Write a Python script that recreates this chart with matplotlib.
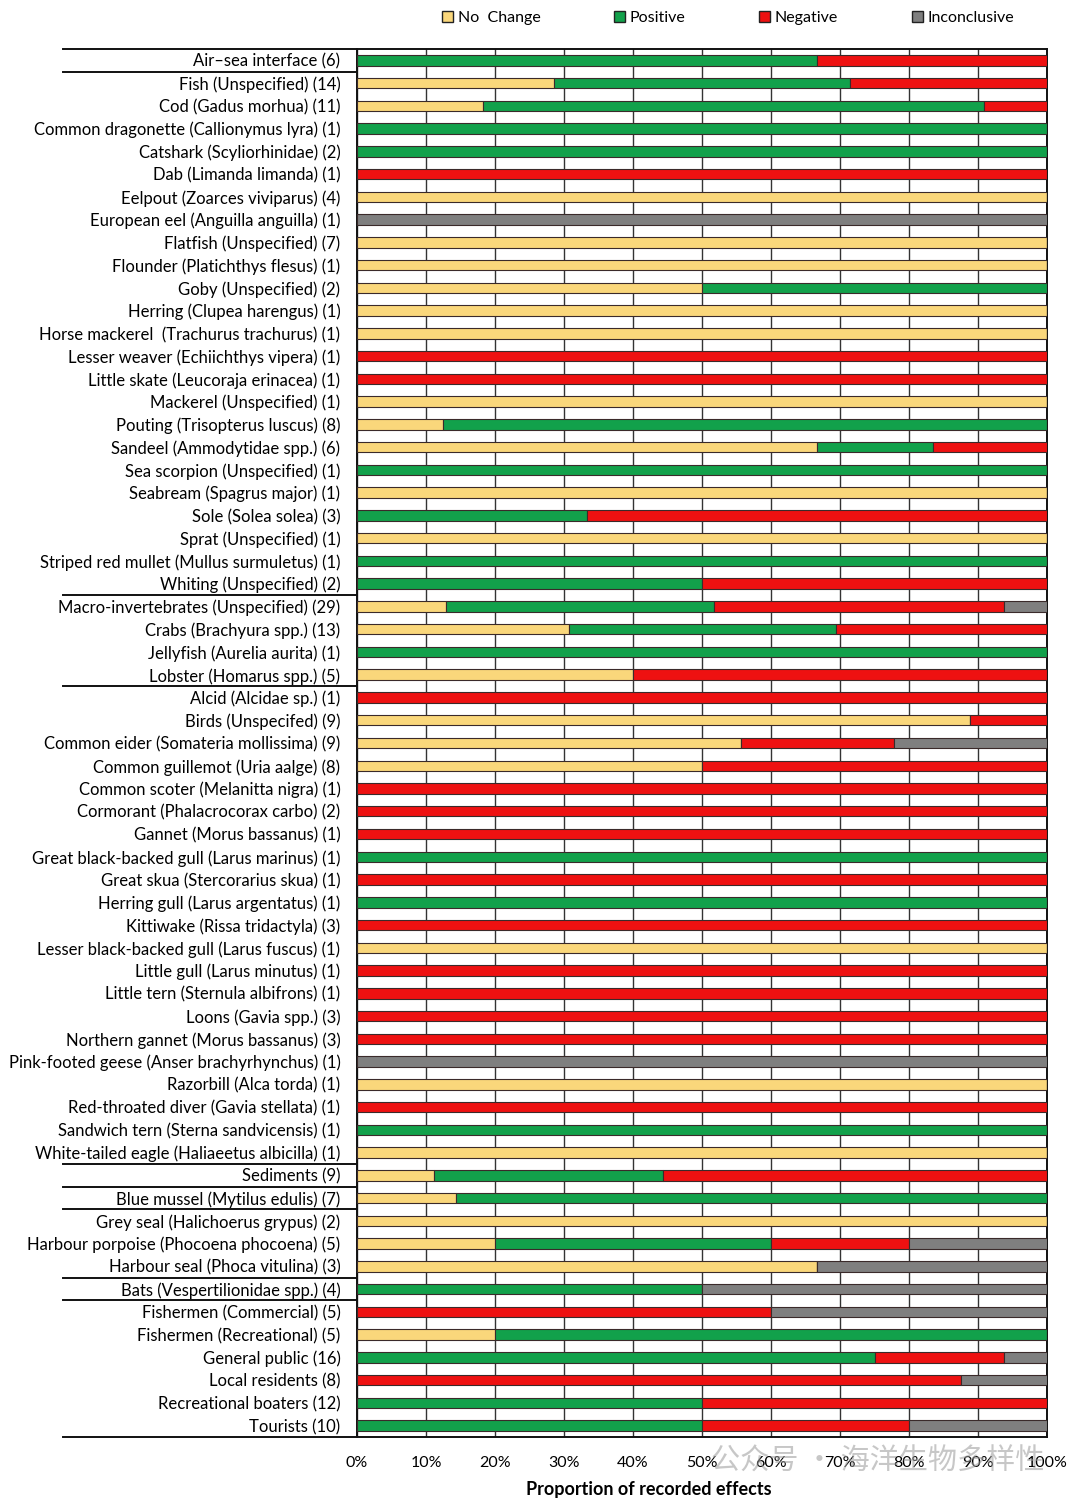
import matplotlib.pyplot as plt
from matplotlib.patches import Patch
import matplotlib.transforms as mtransforms

plt.rcParams['font.family'] = ['Lato', 'Noto Sans CJK SC', 'DejaVu Sans']

# categories, top to bottom
labels = [
    "Air\u2013sea interface (6)", "Fish (Unspecified) (14)", "Cod (Gadus morhua) (11)",
    "Common dragonette (Callionymus lyra) (1)", "Catshark (Scyliorhinidae) (2)",
    "Dab (Limanda limanda) (1)", "Eelpout (Zoarces viviparus) (4)",
    "European eel (Anguilla anguilla) (1)", "Flatfish (Unspecified) (7)",
    "Flounder (Platichthys flesus) (1)", "Goby (Unspecified) (2)",
    "Herring (Clupea harengus) (1)", "Horse mackerel  (Trachurus trachurus) (1)",
    "Lesser weaver (Echiichthys vipera) (1)", "Little skate (Leucoraja erinacea) (1)",
    "Mackerel (Unspecified) (1)", "Pouting (Trisopterus luscus) (8)",
    "Sandeel (Ammodytidae spp.) (6)", "Sea scorpion (Unspecified) (1)",
    "Seabream (Spagrus major) (1)", "Sole (Solea solea) (3)", "Sprat (Unspecified) (1)",
    "Striped red mullet (Mullus surmuletus) (1)", "Whiting (Unspecified) (2)",
    "Macro-invertebrates (Unspecified) (29)", "Crabs (Brachyura spp.) (13)",
    "Jellyfish (Aurelia aurita) (1)", "Lobster (Homarus spp.) (5)",
    "Alcid (Alcidae sp.) (1)", "Birds (Unspecifed) (9)",
    "Common eider (Somateria mollissima) (9)", "Common guillemot (Uria aalge) (8)",
    "Common scoter (Melanitta nigra) (1)", "Cormorant (Phalacrocorax carbo) (2)",
    "Gannet (Morus bassanus) (1)", "Great black-backed gull (Larus marinus) (1)",
    "Great skua (Stercorarius skua) (1)", "Herring gull (Larus argentatus) (1)",
    "Kittiwake (Rissa tridactyla) (3)", "Lesser black-backed gull (Larus fuscus) (1)",
    "Little gull (Larus minutus) (1)", "Little tern (Sternula albifrons) (1)",
    "Loons (Gavia spp.) (3)", "Northern gannet (Morus bassanus) (3)",
    "Pink-footed geese (Anser brachyrhynchus) (1)", "Razorbill (Alca torda) (1)",
    "Red-throated diver (Gavia stellata) (1)", "Sandwich tern (Sterna sandvicensis) (1)",
    "White-tailed eagle (Haliaeetus albicilla) (1)", "Sediments (9)",
    "Blue mussel (Mytilus edulis) (7)", "Grey seal (Halichoerus grypus) (2)",
    "Harbour porpoise (Phocoena phocoena) (5)", "Harbour seal (Phoca vitulina) (3)",
    "Bats (Vespertilionidae spp.) (4)", "Fishermen (Commercial) (5)",
    "Fishermen (Recreational) (5)", "General public (16)", "Local residents (8)",
    "Recreational boaters (12)", "Tourists (10)",
]

no_change = [0, 0.286, 0.182, 0, 0, 0, 1, 0, 1, 1, 0.5, 1, 1, 0, 0, 1, 0.125, 0.667, 0, 1,
             0, 1, 0, 0, 0.129, 0.307, 0, 0.4, 0, 0.889, 0.556, 0.5, 0, 0, 0, 0, 0, 0,
             0, 1, 0, 0, 0, 0, 0, 1, 0, 0, 1, 0.111, 0.143, 1, 0.2, 0.667, 0, 0, 0.2, 0,
             0, 0, 0]
positive = [0.667, 0.428, 0.727, 1, 1, 0, 0, 0, 0, 0, 0.5, 0, 0, 0, 0, 0, 0.875, 0.167, 1, 0,
            0.333, 0, 1, 0.5, 0.388, 0.387, 1, 0, 0, 0, 0, 0, 0, 0, 0, 1, 0, 1,
            0, 0, 0, 0, 0, 0, 0, 0, 0, 1, 0, 0.333, 0.857, 0, 0.4, 0, 0.5, 0, 0.8, 0.75,
            0, 0.5, 0.5]
negative = [0.333, 0.286, 0.091, 0, 0, 1, 0, 0, 0, 0, 0, 0, 0, 1, 1, 0, 0, 0.166, 0, 0,
            0.667, 0, 0, 0.5, 0.42, 0.306, 0, 0.6, 1, 0.111, 0.222, 0.5, 1, 1, 1, 0, 1, 0,
            1, 0, 1, 1, 1, 1, 0, 0, 1, 0, 0, 0.556, 0, 0, 0.2, 0, 0, 0.6, 0, 0.1875,
            0.875, 0.5, 0.3]
inconclusive = [0, 0, 0, 0, 0, 0, 0, 1, 0, 0, 0, 0, 0, 0, 0, 0, 0, 0, 0, 0,
                0, 0, 0, 0, 0.063, 0, 0, 0, 0, 0, 0.222, 0, 0, 0, 0, 0, 0, 0,
                0, 0, 0, 0, 0, 0, 1, 0, 0, 0, 0, 0, 0, 0, 0.2, 0.333, 0.5, 0.4, 0, 0.0625,
                0.125, 0, 0.2]

series = [("No  Change", no_change, "#FAD77B"),
          ("Positive", positive, "#12A14B"),
          ("Negative", negative, "#EE1111"),
          ("Inconclusive", inconclusive, "#7F7F7F")]

# rows after which a group separator line is drawn
group_breaks = [0, 23, 27, 48, 49, 50, 53, 54]

fig = plt.figure(figsize=(10.8, 15.06), dpi=100)
ax = fig.add_axes([0.3306, 0.0458, 0.6389, 0.9217])

y = list(range(len(labels)))
left = [0.0] * len(labels)
for name, vals, col in series:
    ax.barh(y, vals, left=left, height=0.46, color=col, edgecolor="#3a2a2a",
            linewidth=0.8, zorder=3)
    left = [l + v for l, v in zip(left, vals)]

ax.set_xlim(0, 1)
ax.set_ylim(len(labels) - 0.5, -0.5)
ax.set_yticks(y)
ax.set_yticklabels(labels, fontsize=12)
ax.set_xticks([i / 10 for i in range(11)])
ax.set_xticklabels([f"{i * 10}%" for i in range(11)], fontsize=11.5)
ax.tick_params(axis="both", length=0)
ax.tick_params(axis="y", pad=12)
ax.tick_params(axis="x", pad=14)
ax.xaxis.grid(True, color="#333333", linewidth=1.0, zorder=0)
for s in ax.spines.values():
    s.set_linewidth(1.4)
    s.set_color("#111111")

fig.text(0.601, 1 - 1490 / 1506, "Proportion of recorded effects", fontsize=13,
         fontweight="bold", ha="center", va="center")

# separator lines reaching into the label area
trans = mtransforms.blended_transform_factory(ax.transAxes, ax.transData)
for b in [-0.5] + [g + 0.5 for g in group_breaks] + [len(labels) - 0.5]:
    ax.plot([-0.426, 0], [b, b], color="#111111", linewidth=1.4, transform=trans,
            clip_on=False)

handles = [Patch(facecolor=c, edgecolor="#222222", linewidth=1.0, label=n) for n, _, c in series]
fig.legend(handles=handles, loc="center", bbox_to_anchor=(0.674, 0.988), ncol=4,
           frameon=False, fontsize=11.5, handlelength=0.7, handleheight=0.7,
           handletextpad=0.3, columnspacing=4.6)

# watermark
fig.text(0.813, 1 - 1462 / 1506, "\u516c\u4f17\u53f7 \u00b7 \u6d77\u6d0b\u751f\u7269\u591a\u6837\u6027",
         fontsize=21, color="#9a9a9a", alpha=0.55, ha="center", va="center",
         family=["Noto Sans CJK SC", "DejaVu Sans"])

fig.savefig("out.png", dpi=100)
